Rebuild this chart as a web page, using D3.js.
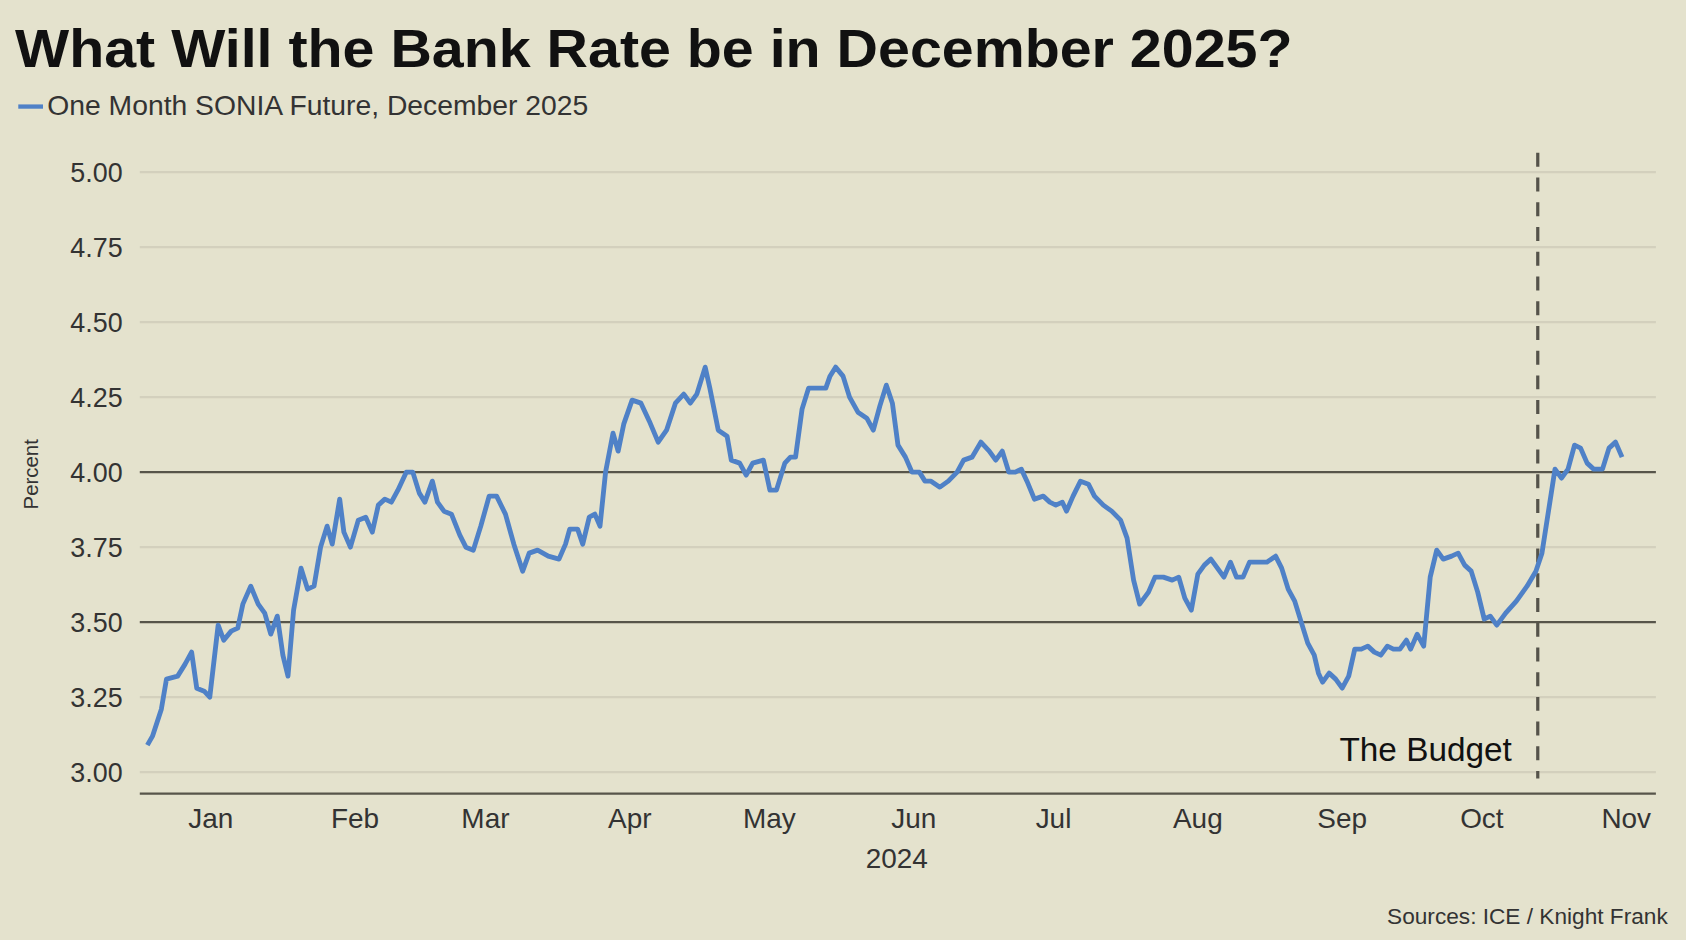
<!DOCTYPE html>
<html><head><meta charset="utf-8">
<script src="https://cdn.jsdelivr.net/npm/d3@7"></script>
<style>html,body{margin:0;padding:0;background:#e4e2cd;}svg{display:block;font-family:"Liberation Sans",Arial,sans-serif;}</style>
</head><body>
<script>
const title = "What Will the Bank Rate be in December 2025?";
const seriesName = "One Month SONIA Future, December 2025";
// day index since 1 Jan 2024
const days = [1.4,2.5,4.4,5.5,7.9,9.5,10.9,12,13.6,14.8,16.6,17.8,19.4,20.8,21.9,23.6,25.2,26.6,27.9,29.3,30.5,31.6,32.8,34.4,35.8,37.2,38.6,40,41.1,42.7,43.6,45,46.7,48.3,49.7,51,52.4,53.8,55.2,57,58.4,59.8,61,62.6,63.7,65.1,66.7,68.5,69.8,71.4,73,74.8,76.4,78.3,80.1,82,83.4,85.2,87.5,89.8,91.2,92.1,93.8,94.9,96.3,97.5,98.6,99.8,101.4,102.5,103.7,105.5,107.4,109.2,111.1,112.9,114.8,116.6,118,119.4,121.2,122.2,124,125.9,126.8,128.6,130,131.4,133.7,135.1,136.5,138.3,139.5,140.6,142,143.4,145.3,147.1,148,149.2,150.8,152.2,154,155.9,157.3,158.7,160.1,161.4,162.6,164.2,165.6,167.2,168.4,169.7,171.6,173.4,175.3,176.7,178.5,180.4,182.2,183.6,185,186.4,187.8,189.1,190.3,191.9,193.8,195.2,196.5,197.9,198.8,200.2,201.8,203.5,204.8,206.7,208.5,210.4,211.8,213.2,214.5,216.4,217.8,219.6,221.5,222.9,224.2,225.6,227,228.4,229.8,231.2,232.6,234,235.3,236.7,238.1,240,241.8,243.7,245,246.4,247.8,249.2,250.6,252,252.9,253.8,255.2,256.6,258,259.4,260.7,262.1,263.5,264.9,266.3,267.7,269,270.4,271.8,272.7,274.1,275.5,276.9,278.3,279.7,281.5,282.9,284.3,285.7,287.1,288.5,289.8,291.2,293.1,295.4,297.7,299.6,300.9,302.3,303.7,305.1,306.5,307.9,309.2,310.6,312,313.9,315.3,316.7,318.1];
const values = [3.09,3.12,3.21,3.31,3.32,3.36,3.40,3.28,3.27,3.25,3.49,3.44,3.47,3.48,3.56,3.62,3.56,3.53,3.46,3.52,3.39,3.32,3.54,3.68,3.61,3.62,3.75,3.82,3.76,3.91,3.80,3.75,3.84,3.85,3.80,3.89,3.91,3.90,3.94,4.00,4.00,3.93,3.90,3.97,3.90,3.87,3.86,3.79,3.75,3.74,3.82,3.92,3.92,3.86,3.76,3.67,3.73,3.74,3.72,3.71,3.76,3.81,3.81,3.76,3.85,3.86,3.82,4.00,4.13,4.07,4.16,4.24,4.23,4.17,4.10,4.14,4.23,4.26,4.23,4.26,4.35,4.28,4.14,4.12,4.04,4.03,3.99,4.03,4.04,3.94,3.94,4.03,4.05,4.05,4.21,4.28,4.28,4.28,4.32,4.35,4.32,4.25,4.20,4.18,4.14,4.22,4.29,4.23,4.09,4.05,4.00,4.00,3.97,3.97,3.95,3.97,4.00,4.04,4.05,4.10,4.07,4.04,4.07,4.00,4.00,4.01,3.97,3.91,3.92,3.90,3.89,3.90,3.87,3.92,3.97,3.96,3.92,3.89,3.87,3.84,3.78,3.64,3.56,3.60,3.65,3.65,3.64,3.65,3.58,3.54,3.66,3.69,3.71,3.68,3.65,3.70,3.65,3.65,3.70,3.70,3.70,3.72,3.68,3.61,3.57,3.50,3.43,3.39,3.33,3.30,3.33,3.31,3.28,3.32,3.41,3.41,3.42,3.40,3.39,3.42,3.41,3.41,3.44,3.41,3.46,3.42,3.65,3.74,3.71,3.72,3.73,3.69,3.67,3.60,3.51,3.52,3.49,3.53,3.57,3.62,3.67,3.73,3.87,4.01,3.98,4.01,4.09,4.08,4.03,4.01,4.01,4.08,4.10,4.05];
const yTicks = [3.00,3.25,3.50,3.75,4.00,4.25,4.50,4.75,5.00];
const boldTicks = [3.50,4.00];
const monthLabels = ["Jan","Feb","Mar","Apr","May","Jun","Jul","Aug","Sep","Oct","Nov"];
const monthDays = [15,46,74,105,135,166,196,227,258,288,319];
const budgetDay = 300;

const svg = d3.select("body").append("svg").attr("width",1686).attr("height",940).attr("viewBox","0 0 1568 874");
svg.append("rect").attr("width",1568).attr("height",874).attr("fill","#e4e2cd");
const x = d3.scaleLinear().domain([0,325.6]).range([131,1541]);
const y = d3.scaleLinear().domain([3,5]).range([718,160]);

svg.append("text").attr("x",14).attr("y",62).attr("font-size",50).attr("font-weight","bold").attr("fill","#111")
 .attr("textLength",1188).attr("lengthAdjust","spacingAndGlyphs").text(title);
svg.append("line").attr("x1",17).attr("x2",40).attr("y1",99).attr("y2",99).attr("stroke","#4f81c7").attr("stroke-width",4);
svg.append("text").attr("x",44).attr("y",107).attr("font-size",25).attr("fill","#333")
 .attr("textLength",503).attr("lengthAdjust","spacingAndGlyphs").text(seriesName);

const g = svg.append("g");
g.selectAll("line.grid").data(yTicks).join("line").attr("x1",130).attr("x2",1540)
 .attr("y1",d=>y(d)).attr("y2",d=>y(d))
 .attr("stroke",d=>boldTicks.includes(d)?"#57554a":"#d3d0bd").attr("stroke-width",2);
g.selectAll("text.yt").data(yTicks).join("text").attr("x",114).attr("y",d=>y(d)+9).attr("text-anchor","end")
 .attr("font-size",25).attr("fill","#333").text(d=>d.toFixed(2));
svg.append("line").attr("x1",130).attr("x2",1540).attr("y1",738).attr("y2",738).attr("stroke","#57554a").attr("stroke-width",2);
svg.selectAll("text.mt").data(monthDays).join("text").attr("x",d=>x(d)).attr("y",770).attr("text-anchor","middle")
 .attr("font-size",26).attr("fill","#333").text((d,i)=>monthLabels[i]);
svg.append("text").attr("x",834).attr("y",807).attr("text-anchor","middle").attr("font-size",26).attr("fill","#333").text("2024");
svg.append("text").attr("transform","translate(35,441) rotate(-90)").attr("text-anchor","middle").attr("font-size",19).attr("fill","#333").text("Percent");

svg.append("line").attr("x1",x(budgetDay)).attr("x2",x(budgetDay)).attr("y1",142).attr("y2",724)
 .attr("stroke","#55534a").attr("stroke-width",3).attr("stroke-dasharray","13,10");
svg.append("text").attr("x",1406).attr("y",708).attr("text-anchor","end").attr("font-size",31).attr("fill","#111").text("The Budget");

const pts = days.map((d,i)=>[d,values[i]]);
svg.append("path").datum(pts).attr("fill","none").attr("stroke","#4f81c7").attr("stroke-width",4.5).attr("stroke-linejoin","round")
 .attr("d",d3.line().x(d=>x(d[0])).y(d=>y(d[1])));

svg.append("text").attr("x",1551).attr("y",859).attr("text-anchor","end").attr("font-size",20).attr("fill","#333")
 .attr("textLength",261).attr("lengthAdjust","spacingAndGlyphs").text("Sources: ICE / Knight Frank");
</script>
</body></html>
